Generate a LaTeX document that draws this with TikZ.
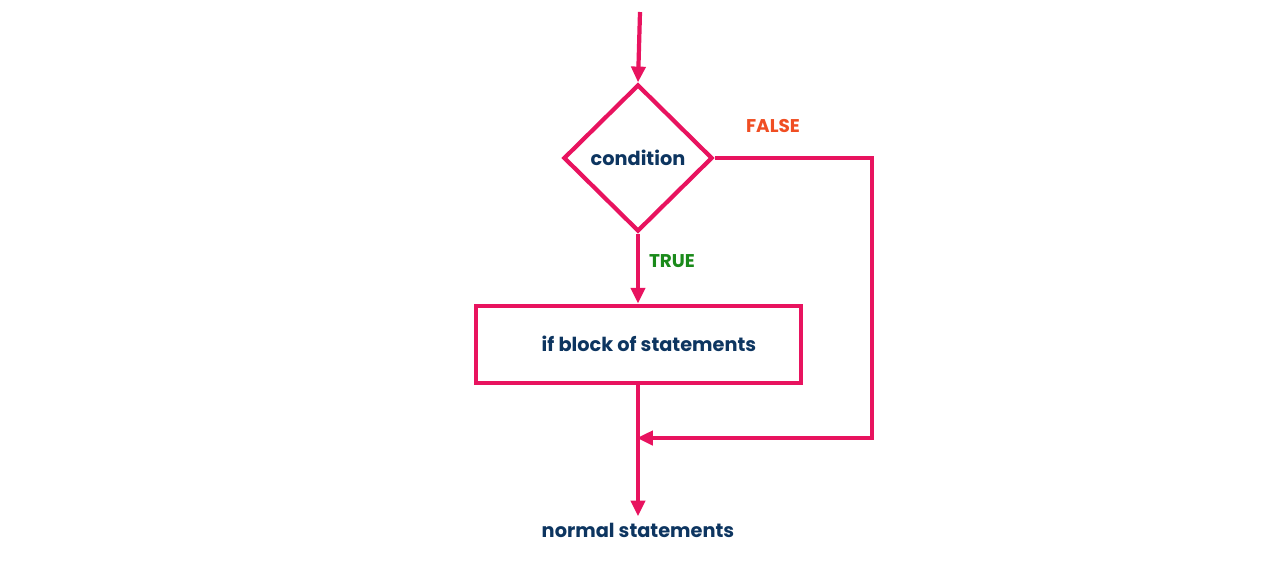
\documentclass[tikz,border=0pt]{standalone}
\usepackage{fontspec}
\setmainfont{Poppins}
\usetikzlibrary{shapes.geometric,arrows.meta}
\definecolor{pk}{HTML}{E8135F}
\definecolor{nv}{HTML}{0D3560}
\definecolor{fl}{HTML}{F04E23}
\definecolor{tr}{HTML}{1A8A1A}
\begin{document}
\begin{tikzpicture}[x=0.02cm,y=-0.02cm,
  ln/.style={draw=pk,line width=2.4pt},
  arr/.style={ln,-{Triangle[length=9pt,width=8pt]}},
  txt/.style={text=nv,font=\fontsize{11}{13}\selectfont\bfseries},
  lab/.style={font=\fontsize{10.5}{12}\selectfont\bfseries}]
\useasboundingbox (0,0) rectangle (1280,566);
\coordinate (start) at (640,12);
\node[diamond,ln,minimum width=2.98cm,minimum height=2.94cm,inner sep=0pt,txt] (cond) at (638,158) {condition};
\node[rectangle,ln,minimum width=6.5cm,minimum height=1.55cm,inner sep=0pt] (blk) at (638.5,344.5) {};
\node[txt] (blkt) at (649,344) {if block of statements};
\node[txt] (norm) at (638,530) {normal statements};
\coordinate (c1) at (872,158);
\coordinate (c2) at (872,438);
\coordinate (j) at (637,438);
\coordinate (jt) at (708,438);
\draw[arr] (start) -- (cond.north);
\draw[arr] (cond.south) -- (blk.north -| cond.south);
\draw[arr] (blk.south -| cond.south) -- ++(0,131);
\draw[ln] (cond.east) -- (c1) -- (c2) -- (jt);
\draw[arr] (jt) -- (j);
\node[lab,text=fl] (f) at (773,126) {FALSE};
\node[lab,text=tr] (t) at (672,261) {TRUE};
\end{tikzpicture}
\end{document}
